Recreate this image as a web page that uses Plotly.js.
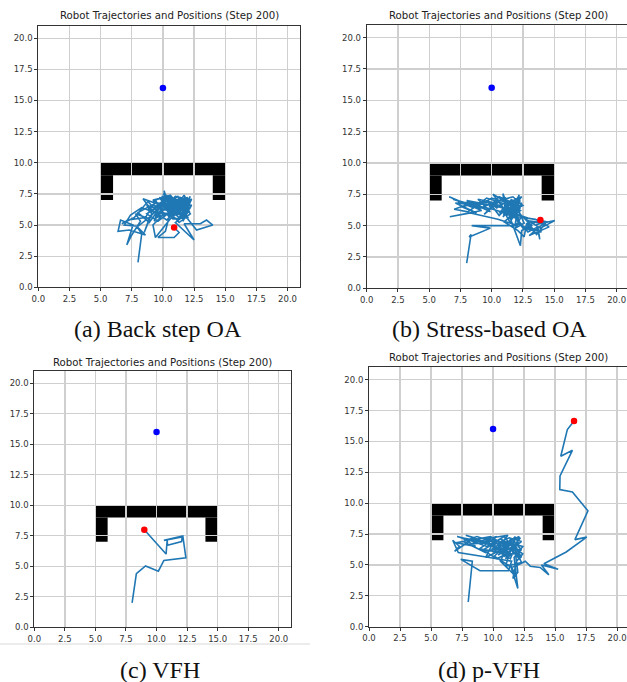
<!DOCTYPE html>
<html>
<head>
<meta charset="utf-8">
<script src="https://cdn.plot.ly/plotly-3.0.1.min.js"></script>
<style>html,body{margin:0;padding:0;background:#fff;}#chart{width:627px;height:682px;}</style>
</head>
<body>
<div id="chart"></div>
<script>
// ---------------- data ----------------
const panelTitle = 'Robot Trajectories and Positions (Step 200)';
const captions = ['(a) Back step OA', '(b) Stress-based OA', '(c) VFH', '(d) p-VFH'];
const tickVals = [0, 2.5, 5, 7.5, 10, 12.5, 15, 17.5, 20];
const tickText = ['0.0', '2.5', '5.0', '7.5', '10.0', '12.5', '15.0', '17.5', '20.0'];

// goal (blue) and final robot position (red), per panel a-d
const goalX = [10, 10, 10, 10];
const goalY = [16, 16, 16, 16];
const endX = [10.9, 13.9, 9.0, 16.53];
const endY = [4.8, 5.45, 8.0, 16.65];

// U-shaped obstacle rectangles
const obsX0 = [5, 5, 14];
const obsX1 = [15, 6, 15];
const obsY0 = [9, 7, 7];
const obsY1 = [10, 9, 9];

// (a) Back step OA trajectory
const aX = [8.0,8.3,7.9,8.6,7.3,6.4,6.6,7.6,7.1,7.5,8.2,7.8,8.9,8.5,9.1,8.7,9.6,9.3,10.2,10.1,10.5,9.7,11.1,10.4,11.6,12.2,11.3,10.8,12.0,11.2,10.0,9.4,10.6,11.8,12.3,11.5,10.3,9.0,8.4,9.8,10.9,12.1,11.7,10.7,9.5,10.2,11.4,12.0,11.0,12.5,11.7,13.0,13.5,14.0,12.7,11.9,10.8,9.9,11.3,10.5,9.2,8.6,7.2,6.7,7.7,8.8,9.6,10.9,11.9,11.2,10.4,11.5,12.2,10.6,9.4,9.2,10.0,11.6,10.2,9.3,10.7,12.0,11.1,10.1,11.3,12.1,11.0,9.7,8.9,8.0,9.5,10.5,11.8,11.4,10.3,11.0,12.3,11.6,
  11.9,10.6,9.8,11.0,12.2,11.3,10.1,9.2,10.4,11.7,12.0,10.8,9.9,11.4,12.3,11.0,10.3,9.5,8.7,9.6,10.9,11.8,12.1,10.7,9.9,11.2,11.9,10.5,9.3,8.3,7.4,6.9,8.0,9.0,10.2,11.5,12.2,11.3,10.4,11.6,10.0,10.8,
  10.2,9.6,10.9,11.3,10.9];
const aY = [2.0,4.3,4.9,4.2,4.6,4.5,5.4,5.0,3.4,4.2,5.3,5.9,5.5,4.4,5.9,6.6,6.2,5.3,6.9,7.75,6.3,7.2,6.7,5.7,6.2,7.3,5.9,7.1,6.8,5.4,6.0,7.0,7.4,5.9,7.1,6.6,5.4,6.3,7.1,6.6,5.9,6.5,7.4,6.0,5.6,6.4,7.2,6.0,5.2,3.8,5.1,5.1,5.4,5.0,4.6,5.6,6.5,7.3,6.9,6.1,6.6,5.6,5.4,5.1,5.6,6.9,6.0,6.8,6.3,7.3,6.7,5.7,6.9,5.5,4.0,5.0,5.8,6.4,7.1,6.4,6.9,7.2,6.2,6.6,5.6,6.1,7.0,6.3,5.2,6.0,6.8,6.5,7.0,6.1,5.9,6.4,6.6,5.3,
  6.7,7.0,5.9,6.0,6.4,7.1,6.2,7.0,7.3,6.1,5.6,5.5,6.8,6.5,7.0,7.3,6.6,6.4,5.9,5.3,6.3,7.2,6.3,6.1,7.0,6.6,5.8,5.9,6.0,6.4,5.8,5.0,4.9,5.7,6.9,6.9,5.9,5.2,6.2,6.8,7.5,6.8,
  4.5,4.0,4.0,4.4,4.8];

// (b) Stress-based OA trajectory
const bX = [8.0,8.35,8.2,9.9,8.4,12.1,10.5,8.3,6.65,9.2,6.6,8.6,7.3,9.6,8.0,9.9,8.9,10.3,9.4,10.8,10.1,11.1,10.9,11.5,12.2,11.8,12.4,11.2,12.1,11.6,10.6,11.9,11.3,12.3,11.0,12.0,12.3,12.4,13.2,12.6,13.9,15.05,13.6,13.85,13.7,12.9,11.7,10.7,9.3,7.6,8.8,7.1,9.0,10.0,11.4,12.1,11.5,10.9,11.7,12.4,11.9,12.6,12.2,11.3,10.4,9.7,10.6,11.8,12.3,11.6,12.0,10.9,11.4,12.5,13.4,12.8,14.2,13.0,14.6,13.5,12.1,11.2,11.9,
  11.0,12.3,11.6,10.2,8.4,7.0,8.1,9.6,10.8,12.0,11.2,12.4,11.5,10.6,9.8,11.1,12.2,11.8,10.9,12.5,11.7,10.3,9.1,7.8,6.9,8.7,10.1,11.4,12.3,11.0,12.1,12.6,12.8,13.6,14.4,12.9,12.0,11.3,12.2,11.9,13.1,14.0,
  12.7,13.9];
const bY = [2.0,4.3,4.1,4.8,5.0,5.0,5.5,6.0,5.7,6.2,7.3,6.4,6.9,6.7,7.0,6.1,7.1,6.8,5.9,7.1,7.5,6.2,7.55,6.0,7.45,5.6,6.8,6.6,5.3,7.1,6.0,6.6,5.5,6.2,6.9,4.2,3.4,4.6,5.0,5.6,4.8,5.4,5.1,3.9,4.9,4.5,5.9,6.6,6.9,6.5,6.0,6.8,6.6,7.2,6.8,7.2,5.2,6.3,6.5,5.8,4.8,5.2,6.1,7.0,6.4,7.0,5.8,7.0,6.5,5.5,6.8,5.7,6.3,4.8,4.6,5.4,5.2,4.2,4.9,5.5,5.7,6.5,6.1,
  6.1,7.0,6.2,6.6,6.8,6.3,6.1,7.2,6.8,6.4,5.8,7.3,6.9,7.3,6.5,7.2,5.4,6.3,5.9,6.6,7.3,6.9,6.4,6.8,7.1,6.6,6.3,5.9,6.4,5.3,4.6,4.1,5.2,4.3,5.3,5.6,5.9,6.8,6.9,5.2,4.7,4.5,
  4.9,5.45];

// (c) VFH trajectory
const cX = [8.0,8.35,9.1,10.15,10.6,12.4,12.15,10.6,12.1,12.05,10.9,10.87,10.78,9.0];
const cY = [2.0,4.4,5.03,4.6,5.48,5.7,7.48,7.12,7.4,7.02,6.72,7.1,6.0,8.0];

// (d) p-VFH trajectory
const dX = [8.0,8.33,7.4,8.95,11.24,11.5,9.7,7.2,6.75,7.3,6.9,8.5,7.8,9.6,8.2,10.3,8.9,10.7,9.3,11.2,10.0,11.8,10.5,12.2,11.0,12.0,10.2,11.6,9.1,7.5,8.6,7.0,9.8,11.1,12.3,11.4,10.6,11.9,11.4,12.0,11.7,12.4,10.9,9.9,11.3,12.1,10.4,11.5,12.3,11.0,11.8,10.8,9.4,10.1,11.2,12.2,11.6,
  10.9,9.5,8.1,7.1,8.8,10.0,11.3,12.3,11.1,10.3,9.2,10.6,11.9,12.2,11.5,10.2,8.7,7.6,9.4,10.8,12.1,11.4,10.5,11.7,12.3,11.0,9.7,10.9,11.8,12.0,11.6,11.9,12.4,11.2,10.1,11.5,
  12.0,12.6,13.0,13.8,14.5,13.9,15.25,14.1,15.9,17.55,16.6,17.65,16.4,15.38,15.4,16.4,15.46,15.81,15.99,16.53];
const dY = [2.0,5.3,5.45,4.53,4.53,5.3,5.6,6.0,7.0,6.5,6.1,7.2,7.4,6.8,6.7,7.3,6.3,6.0,7.1,7.4,5.9,6.9,6.7,7.2,5.5,6.2,6.4,5.8,6.9,7.2,6.5,6.8,7.3,6.5,5.6,7.1,5.3,4.0,5.0,3.1,5.6,6.5,6.9,6.3,6.1,6.8,5.8,6.7,5.2,4.9,7.3,6.3,5.6,7.0,5.8,6.0,6.4,
  7.3,6.5,7.0,7.3,6.9,6.6,7.2,6.9,5.9,5.5,6.2,7.1,6.4,5.4,6.2,6.8,7.3,6.9,6.0,6.6,7.3,5.5,6.2,6.9,6.2,6.4,7.1,5.7,6.0,4.4,3.9,5.3,5.9,6.8,5.7,4.8,
  5.0,5.3,4.9,4.8,4.2,5.0,4.65,5.1,6.05,7.25,7.05,9.38,10.9,11.1,12.2,14.28,13.8,15.09,15.96,16.65];

const trajX = [aX, bX, cX, dX];
const trajY = [aY, bY, cY, dY];

// ---------------- layout geometry (pixels) ----------------
const W = 627, H = 682;
const boxes = [
  {l: 38.3, r: 300, t: 25.7, b: 287.3, xmax: 21, mirrorY: true, titleX: 169, titleY: 15.7, capX: 158, capY: 329},
  {l: 366.7, r: 627, t: 25, b: 288.3, xmax: 20.83, mirrorY: false, titleX: 498, titleY: 15.7, capX: 489, capY: 329},
  {l: 34.3, r: 291, t: 371, b: 627.3, xmax: 21, mirrorY: true, titleX: 162, titleY: 362.3, capX: 160, capY: 670},
  {l: 369, r: 627, t: 367.3, b: 626.7, xmax: 20.8, mirrorY: false, titleX: 498.5, titleY: 357.7, capX: 489, capY: 670}
];

const BLUE = '#1f77b4';
const traces = [];
const layout = {
  width: W, height: H, autosize: false,
  margin: {l: 0, r: 0, t: 0, b: 0, pad: 0},
  paper_bgcolor: '#ffffff', plot_bgcolor: '#ffffff',
  showlegend: false,
  shapes: [], annotations: []
};

boxes.forEach((bx, i) => {
  const n = i === 0 ? '' : String(i + 1);
  const xr = 'x' + n, yr = 'y' + n;
  traces.push({x: trajX[i], y: trajY[i], xaxis: xr, yaxis: yr, type: 'scatter', mode: 'lines',
    line: {color: BLUE, width: 1.6}, hoverinfo: 'skip'});
  traces.push({x: [goalX[i]], y: [goalY[i]], xaxis: xr, yaxis: yr, type: 'scatter', mode: 'markers',
    marker: {color: '#0000ff', size: 6.5}, hoverinfo: 'skip'});
  traces.push({x: [endX[i]], y: [endY[i]], xaxis: xr, yaxis: yr, type: 'scatter', mode: 'markers',
    marker: {color: '#ff0000', size: 6.5}, hoverinfo: 'skip'});

  const axCommon = {
    tickvals: tickVals, ticktext: tickText,
    showgrid: true, gridcolor: '#cfcfcf', gridwidth: 1.3,
    zeroline: false, showline: true, linecolor: '#333333', linewidth: 1,
    ticks: 'outside', ticklen: 3, tickwidth: 1, tickcolor: '#333333',
    tickfont: {family: 'DejaVu Sans', size: 8.5, color: '#333333'},
    fixedrange: true
  };
  layout['xaxis' + n] = Object.assign({}, axCommon, {
    domain: [bx.l / W, bx.r / W], range: [0, bx.xmax], anchor: yr, mirror: true
  });
  layout['yaxis' + n] = Object.assign({}, axCommon, {
    domain: [1 - bx.b / H, 1 - bx.t / H], range: [0, 21], anchor: xr, mirror: bx.mirrorY
  });

  for (let k = 0; k < obsX0.length; k++) {
    layout.shapes.push({type: 'rect', xref: xr, yref: yr, x0: obsX0[k], x1: obsX1[k], y0: obsY0[k], y1: obsY1[k],
      fillcolor: '#000000', line: {width: 0}, layer: 'below'});
  }

  layout.annotations.push({text: panelTitle, xref: 'paper', yref: 'paper', x: bx.titleX / W, y: 1 - bx.titleY / H,
    xanchor: 'center', yanchor: 'middle', showarrow: false,
    font: {family: 'DejaVu Sans', size: 10.2, color: '#222222'}});
  layout.annotations.push({text: captions[i], xref: 'paper', yref: 'paper', x: bx.capX / W, y: 1 - bx.capY / H,
    xanchor: 'center', yanchor: 'middle', showarrow: false,
    font: {family: 'Liberation Serif', size: 24, color: '#111111'}});
});

// thin separator line under panel (c)
layout.shapes.push({type: 'line', xref: 'paper', yref: 'paper', x0: 0, x1: 310 / W, y0: 1 - 644 / H, y1: 1 - 644 / H,
  line: {color: '#d8d8d8', width: 1}});

Plotly.newPlot('chart', traces, layout, {staticPlot: true, displayModeBar: false});
</script>
</body>
</html>
